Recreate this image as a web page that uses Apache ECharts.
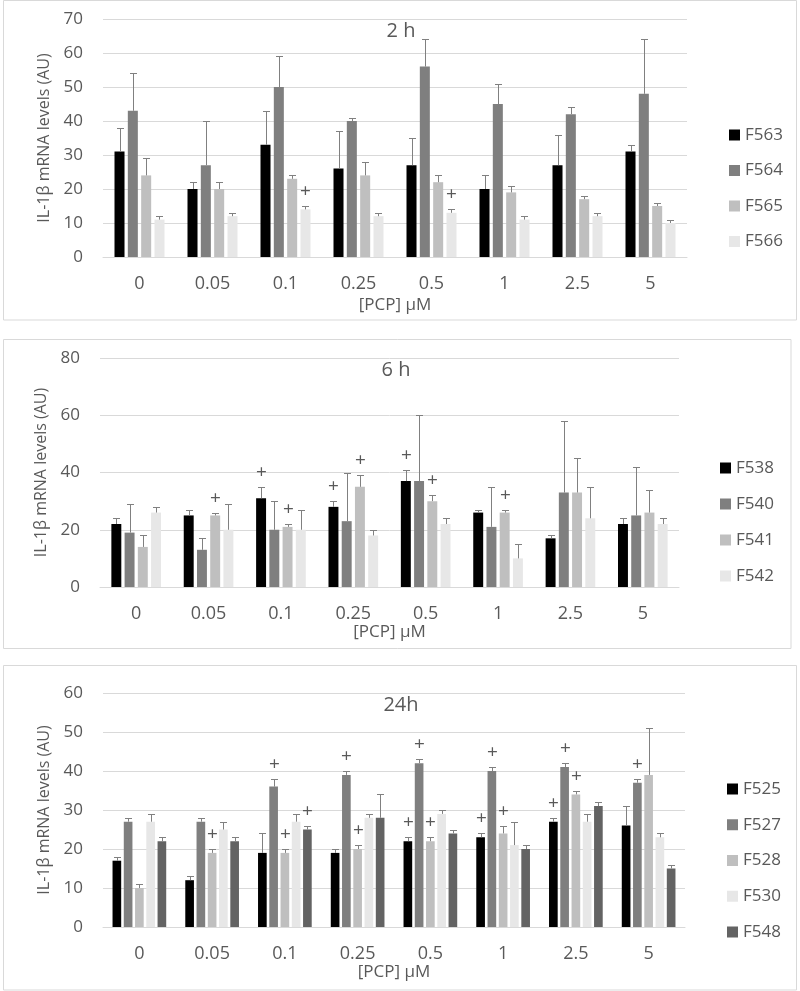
<!DOCTYPE html>
<html>
<head>
<meta charset="utf-8">
<script src="https://cdn.jsdelivr.net/npm/echarts@6/dist/echarts.min.js"></script>
<style>
html,body{margin:0;padding:0;background:#fff;}
#chart{width:800px;height:991px;}
</style>
</head>
<body>
<div id="chart"></div>
<script>
// ---------- DATA ----------
const categories = ['0', '0.05', '0.1', '0.25', '0.5', '1', '2.5', '5'];
const yTicks2h = [0, 10, 20, 30, 40, 50, 60, 70];
const yTicks6h = [0, 20, 40, 60, 80];
const yTicks24h = [0, 10, 20, 30, 40, 50, 60];

// 2 h
const names2h = ['F563', 'F564', 'F565', 'F566'];
const h2_F563 = [31, 20, 33, 26, 27, 20, 27, 31];
const h2_F564 = [43, 27, 50, 40, 56, 45, 42, 48];
const h2_F565 = [24, 20, 23, 24, 22, 19, 17, 15];
const h2_F566 = [11, 12, 14, 12, 13, 11, 12, 10];
const h2_F563_sd = [7, 2, 10, 11, 8, 4, 9, 2];
const h2_F564_sd = [11, 13, 9, 1, 8, 6, 2, 16];
const h2_F565_sd = [5, 2, 1, 4, 2, 2, 1, 1];
const h2_F566_sd = [1, 1, 1, 1, 1, 1, 1, 1];
const h2_F563_plus = [0, 0, 0, 0, 0, 0, 0, 0];
const h2_F564_plus = [0, 0, 0, 0, 0, 0, 0, 0];
const h2_F565_plus = [0, 0, 0, 0, 0, 0, 0, 0];
const h2_F566_plus = [0, 0, 1, 0, 1, 0, 0, 0];

// 6 h
const names6h = ['F538', 'F540', 'F541', 'F542'];
const h6_F538 = [22, 25, 31, 28, 37, 26, 17, 22];
const h6_F540 = [19, 13, 20, 23, 37, 21, 33, 25];
const h6_F541 = [14, 25, 21, 35, 30, 26, 33, 26];
const h6_F542 = [26, 20, 20, 18, 22, 10, 24, 22];
const h6_F538_sd = [2, 2, 4, 2, 4, 1, 1, 2];
const h6_F540_sd = [10, 4, 10, 17, 23, 14, 25, 17];
const h6_F541_sd = [4, 1, 1, 4, 2, 1, 12, 8];
const h6_F542_sd = [2, 9, 7, 2, 2, 5, 11, 2];
const h6_F538_plus = [0, 0, 1, 1, 1, 0, 0, 0];
const h6_F540_plus = [0, 0, 0, 0, 0, 0, 0, 0];
const h6_F541_plus = [0, 1, 1, 1, 1, 1, 0, 0];
const h6_F542_plus = [0, 0, 0, 0, 0, 0, 0, 0];

// 24 h
const names24h = ['F525', 'F527', 'F528', 'F530', 'F548'];
const h24_F525 = [17, 12, 19, 19, 22, 23, 27, 26];
const h24_F527 = [27, 27, 36, 39, 42, 40, 41, 37];
const h24_F528 = [10, 19, 19, 20, 22, 24, 34, 39];
const h24_F530 = [27, 25, 27, 28, 29, 21, 27, 23];
const h24_F548 = [22, 22, 25, 28, 24, 20, 31, 15];
const h24_F525_sd = [1, 1, 5, 1, 1, 1, 1, 5];
const h24_F527_sd = [1, 1, 2, 1, 1, 1, 1, 1];
const h24_F528_sd = [1, 1, 1, 1, 1, 2, 1, 12];
const h24_F530_sd = [2, 2, 2, 1, 1, 6, 2, 1];
const h24_F548_sd = [1, 1, 1, 6, 1, 1, 1, 1];
const h24_F525_plus = [0, 0, 0, 0, 1, 1, 1, 0];
const h24_F527_plus = [0, 0, 1, 1, 1, 1, 1, 1];
const h24_F528_plus = [0, 1, 1, 1, 1, 1, 1, 0];
const h24_F530_plus = [0, 0, 0, 0, 0, 0, 0, 0];
const h24_F548_plus = [0, 0, 1, 0, 0, 0, 0, 0];

// ---------- STYLE ----------
const FONT = '"Open Sans", sans-serif';
const TXT = '#595959';
const GRIDC = '#d9d9d9';
const ERRC = '#808080';

const panels = [
  {
    title: '2 h', titleX: 401, titleY: 31,
    grid: {left: 103, top: 19, width: 584, height: 238},
    max: 70, interval: 10, ticks: yTicks2h,
    names: names2h,
    values: [h2_F563, h2_F564, h2_F565, h2_F566],
    sds: [h2_F563_sd, h2_F564_sd, h2_F565_sd, h2_F566_sd],
    plus: [h2_F563_plus, h2_F564_plus, h2_F565_plus, h2_F566_plus],
    colors: ['#000000', '#7f7f7f', '#bfbfbf', '#e7e7e7'],
    catGap: 0.315, barGap: 0.33,
    legendLeft: 724, legendTop: 120, legendGap: 15.5,
    nameGapY: 51, nameGapX: 40
  },
  {
    title: '6 h', titleX: 396, titleY: 370,
    grid: {left: 100, top: 358, width: 579, height: 229},
    max: 80, interval: 20, ticks: yTicks6h,
    names: names6h,
    values: [h6_F538, h6_F540, h6_F541, h6_F542],
    sds: [h6_F538_sd, h6_F540_sd, h6_F541_sd, h6_F542_sd],
    plus: [h6_F538_plus, h6_F540_plus, h6_F541_plus, h6_F542_plus],
    colors: ['#000000', '#7f7f7f', '#bfbfbf', '#e7e7e7'],
    catGap: 0.314, barGap: 0.33,
    legendLeft: 715, legendTop: 453, legendGap: 16,
    nameGapY: 48, nameGapX: 37
  },
  {
    title: '24h', titleX: 401, titleY: 705,
    grid: {left: 103, top: 693, width: 582, height: 234},
    max: 60, interval: 10, ticks: yTicks24h,
    names: names24h,
    values: [h24_F525, h24_F527, h24_F528, h24_F530, h24_F548],
    sds: [h24_F525_sd, h24_F527_sd, h24_F528_sd, h24_F530_sd, h24_F548_sd],
    plus: [h24_F525_plus, h24_F527_plus, h24_F528_plus, h24_F530_plus, h24_F548_plus],
    colors: ['#000000', '#7f7f7f', '#bfbfbf', '#e7e7e7', '#636363'],
    catGap: 0.262, barGap: 0.30,
    legendLeft: 722, legendTop: 774, legendGap: 15.75,
    nameGapY: 51, nameGapX: 37
  }
];

function errRender(si, n, catGap, barGap) {
  return function (params, api) {
    const ci = api.value(0), v = api.value(1), sd = api.value(2), pl = api.value(3);
    const p0 = api.coord([ci, v]);
    const p1 = api.coord([ci, v + sd]);
    const band = api.size([1, 0])[0];
    const w = band * (1 - catGap) / (n + (n - 1) * barGap);
    const total = n * w + (n - 1) * barGap * w;
    const x = Math.round(p0[0] - total / 2 + si * w * (1 + barGap) + w / 2) + 0.5;
    const y1 = Math.round(p1[1]) + 0.5;
    const children = [
      {type: 'line', shape: {x1: x, y1: p0[1], x2: x, y2: y1}, style: {stroke: ERRC, lineWidth: 1}},
      {type: 'line', shape: {x1: x - 3.5, y1: y1, x2: x + 3.5, y2: y1}, style: {stroke: ERRC, lineWidth: 1}}
    ];
    if (pl) {
      children.push({type: 'text', x: x, y: y1 - 15,
        style: {text: '+', fill: TXT, font: '19px ' + FONT, align: 'center', verticalAlign: 'middle'}});
    }
    return {type: 'group', children: children};
  };
}

const option = {
  backgroundColor: '#ffffff',
  animation: false,
  grid: [], xAxis: [], yAxis: [], legend: [], series: [],
  graphic: []
};

// panel boxes
const boxes = [
  {x: 3.5, y: 0.5, w: 793, h: 319.5},
  {x: 3.5, y: 339.5, w: 787.5, h: 309},
  {x: 3.5, y: 665.5, w: 793, h: 324.5}
];
boxes.forEach(b => option.graphic.push({
  type: 'rect', shape: {x: b.x, y: b.y, width: b.w, height: b.h},
  style: {fill: 'none', stroke: GRIDC, lineWidth: 1}, silent: true, z: 0
}));

panels.forEach((p, gi) => {
  option.grid.push(Object.assign({containLabel: false}, p.grid));
  option.xAxis.push({
    type: 'category', gridIndex: gi, data: categories,
    name: '[PCP] µM', nameLocation: 'middle', nameGap: p.nameGapX,
    nameTextStyle: {color: TXT, fontSize: 17, fontFamily: FONT},
    axisLine: {show: true, lineStyle: {color: GRIDC, width: 1}},
    axisTick: {show: false},
    axisLabel: {color: TXT, fontSize: 18, fontFamily: FONT, margin: 18}
  });
  option.yAxis.push({
    type: 'value', gridIndex: gi, min: 0, max: p.max, interval: p.interval,
    name: 'IL-1β mRNA levels (AU)', nameLocation: 'middle', nameGap: p.nameGapY,
    nameTextStyle: {color: TXT, fontSize: 16, fontFamily: FONT},
    axisLine: {show: false}, axisTick: {show: false},
    splitLine: {show: true, lineStyle: {color: GRIDC, width: 1}},
    axisLabel: {color: TXT, fontSize: 17, fontFamily: FONT, margin: 20,
      formatter: (val) => (p.ticks.indexOf(val) >= 0 ? String(val) : '')}
  });
  option.legend.push({
    orient: 'vertical', left: p.legendLeft, top: p.legendTop,
    itemWidth: 11, itemHeight: 11, itemGap: p.legendGap,
    icon: 'rect',
    data: p.names,
    textStyle: {color: TXT, fontSize: 17, fontFamily: FONT, lineHeight: 20}
  });
  option.graphic.push({
    type: 'text', x: p.titleX, y: p.titleY,
    style: {text: p.title, fill: TXT, font: '20px ' + FONT, align: 'center', verticalAlign: 'middle'},
    z: 10
  });
  const n = p.names.length;
  p.names.forEach((nm, si) => {
    option.series.push({
      type: 'bar', name: nm, xAxisIndex: gi, yAxisIndex: gi,
      data: p.values[si],
      barGap: (p.barGap * 100) + '%', barCategoryGap: (p.catGap * 100) + '%',
      itemStyle: {color: p.colors[si]},
      emphasis: {disabled: true}
    });
  });
  p.names.forEach((nm, si) => {
    option.series.push({
      type: 'custom', name: nm + ' err', xAxisIndex: gi, yAxisIndex: gi,
      renderItem: errRender(si, n, p.catGap, p.barGap),
      data: p.values[si].map((v, i) => [i, v, p.sds[si][i], p.plus[si][i]]),
      encode: {x: 0, y: 1},
      z: 5, silent: true
    });
  });
});

const chart = echarts.init(document.getElementById('chart'), null, {renderer: 'canvas'});
chart.setOption(option);
</script>
</body>
</html>
